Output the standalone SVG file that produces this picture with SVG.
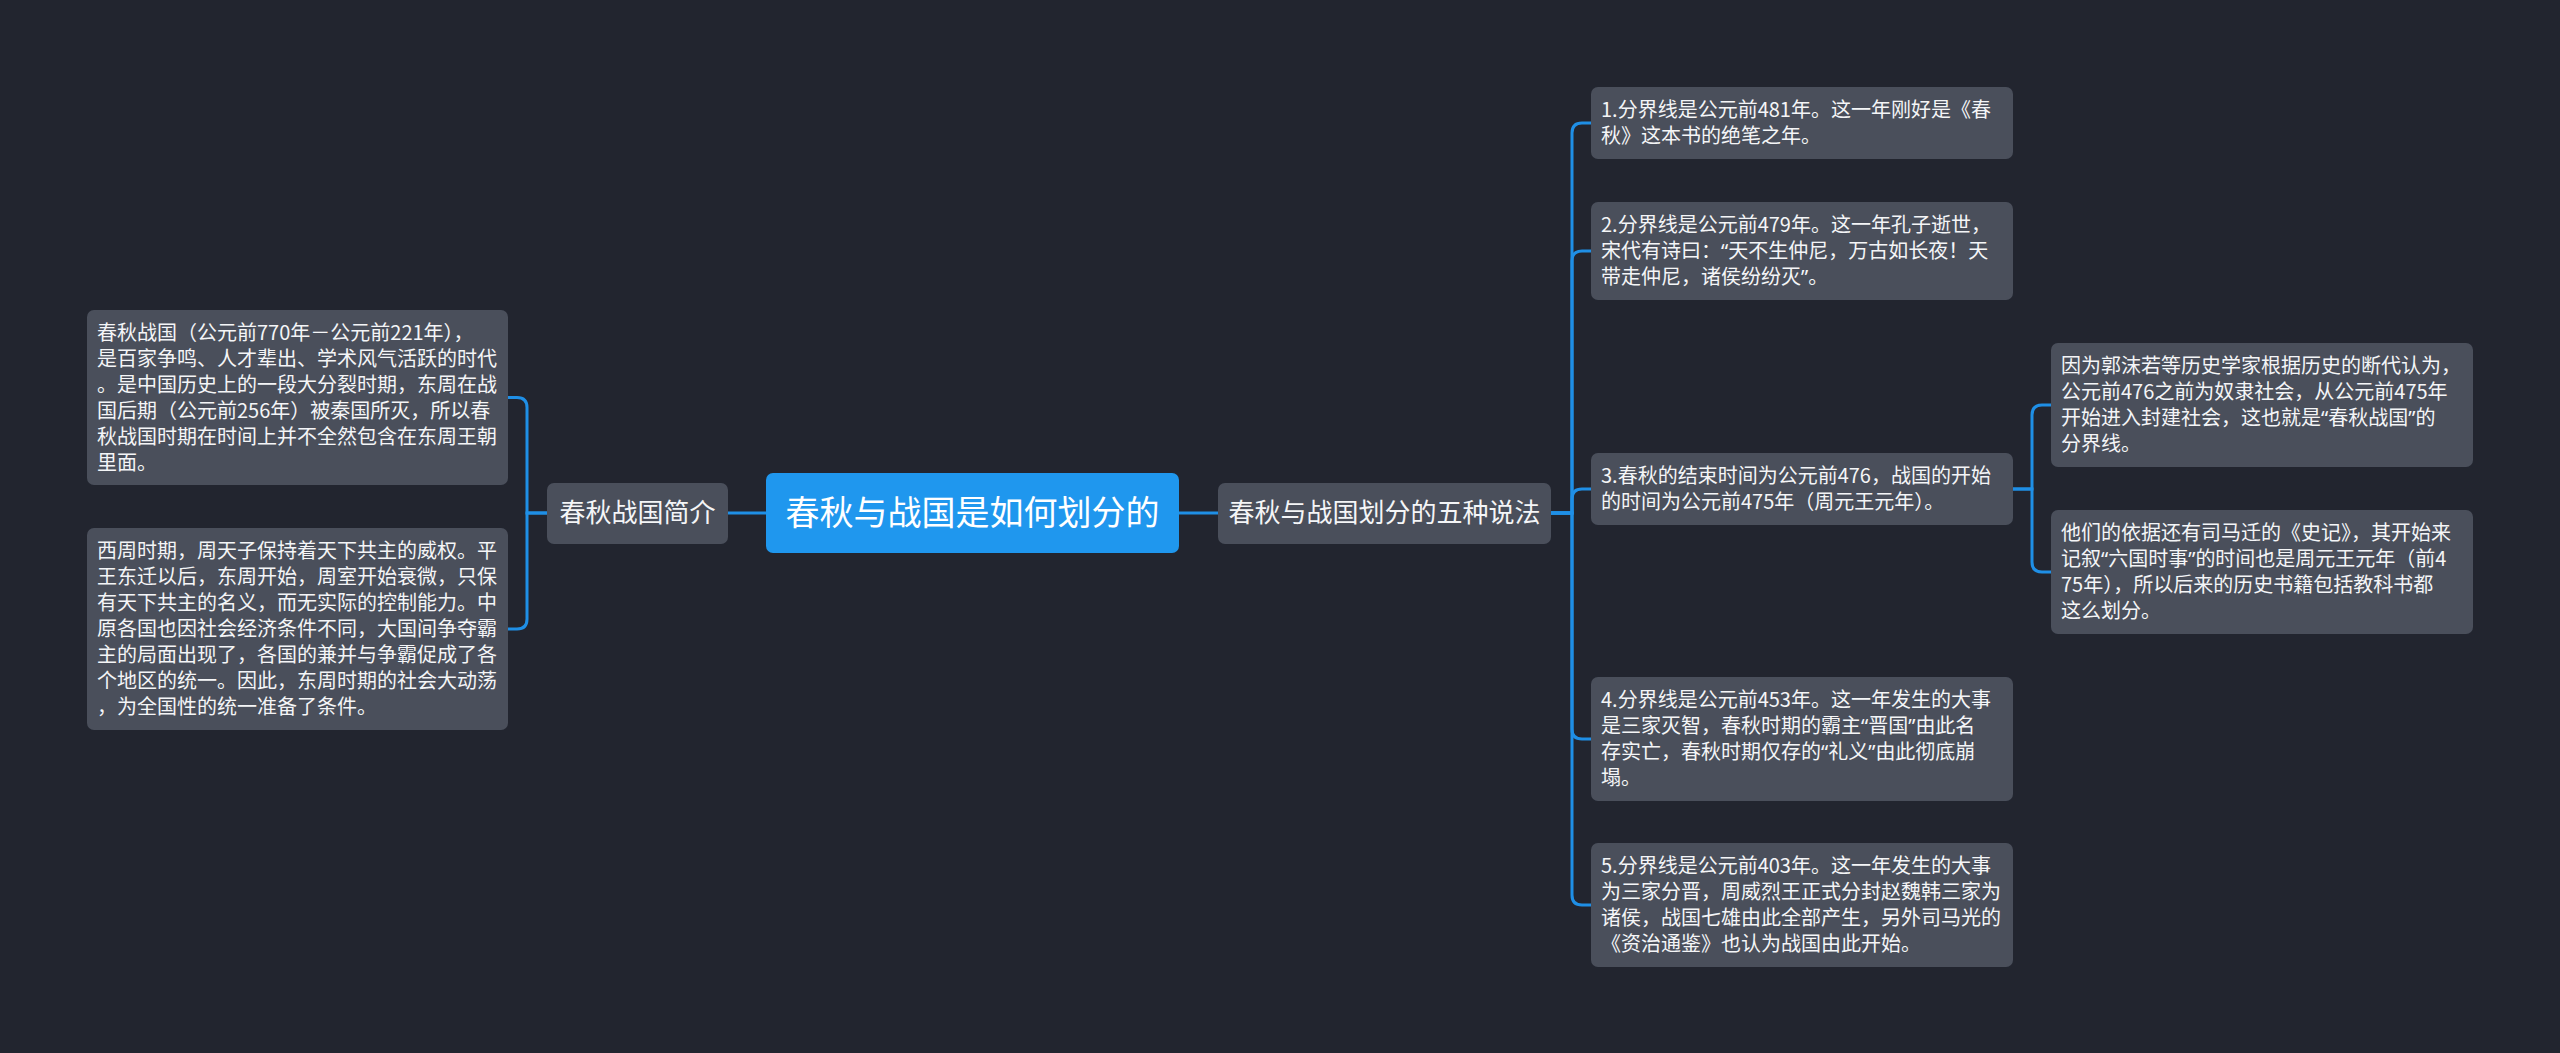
<svg xmlns="http://www.w3.org/2000/svg" width="2560" height="1053" viewBox="0 0 2560 1053">
<style>
.bg{fill:#22252f}
.n{fill:#4a4f5b}
.c{fill:#1f97ee}
.t{font-family:"Noto Sans CJK SC","Noto Sans",sans-serif;fill:#f4f5f7;font-size:20px}
.q{font-family:"Noto Sans","DejaVu Sans",sans-serif}
.t1{font-family:"Noto Sans CJK SC","Noto Sans",sans-serif;fill:#f4f5f7;font-size:26px;text-anchor:middle}
.t0{font-family:"Noto Sans CJK SC","Noto Sans",sans-serif;fill:#ffffff;font-size:34px;text-anchor:middle}
.l{fill:none;stroke:#1f8fe6;stroke-width:3}
</style>
<rect class="bg" x="0" y="0" width="2560" height="1053"/>
<g id="connectors">
<path class="l" d="M547,513 H527 V407.5 Q527,397.5 517,397.5 H508"/>
<path class="l" d="M547,513 H527 V619 Q527,629 517,629 H508"/>
<path class="l" d="M728,513 H766"/>
<path class="l" d="M1179,513 H1218"/>
<path class="l" d="M1551,513 H1572 V133 Q1572,123 1582,123 H1591"/>
<path class="l" d="M1551,513 H1572 V261 Q1572,251 1582,251 H1591"/>
<path class="l" d="M1551,513 H1572 V499 Q1572,489 1582,489 H1591"/>
<path class="l" d="M1551,513 H1572 V729 Q1572,739 1582,739 H1591"/>
<path class="l" d="M1551,513 H1572 V895 Q1572,905 1582,905 H1591"/>
<path class="l" d="M2013,489 H2032 V415 Q2032,405 2042,405 H2051"/>
<path class="l" d="M2013,489 H2032 V562 Q2032,572 2042,572 H2051"/>
</g>
<g id="root">
<rect class="c" x="766" y="473" width="413" height="80" rx="7"/>
<text class="t0" x="972.5" y="525">春秋与战国是如何划分的</text>
</g>
<g id="intro">
<rect class="n" x="547" y="483" width="181" height="61" rx="7"/>
<text class="t1" x="637.5" y="522">春秋战国简介</text>
</g>
<g id="five">
<rect class="n" x="1218" y="483" width="333" height="61" rx="7"/>
<text class="t1" x="1384.5" y="522">春秋与战国划分的五种说法</text>
</g>
<g id="intro1">
<rect class="n" x="87" y="310" width="421" height="175" rx="7"/>
<text class="t" x="97"><tspan x="97" y="340">春秋战国（公元前770年－公元前221年），</tspan><tspan x="97" y="366">是百家争鸣、人才辈出、学术风气活跃的时代</tspan><tspan x="97" y="392">。是中国历史上的一段大分裂时期，东周在战</tspan><tspan x="97" y="418">国后期（公元前256年）被秦国所灭，所以春</tspan><tspan x="97" y="444">秋战国时期在时间上并不全然包含在东周王朝</tspan><tspan x="97" y="470">里面。</tspan></text>
</g>
<g id="intro2">
<rect class="n" x="87" y="528" width="421" height="202" rx="7"/>
<text class="t" x="97"><tspan x="97" y="558">西周时期，周天子保持着天下共主的威权。平</tspan><tspan x="97" y="584">王东迁以后，东周开始，周室开始衰微，只保</tspan><tspan x="97" y="610">有天下共主的名义，而无实际的控制能力。中</tspan><tspan x="97" y="636">原各国也因社会经济条件不同，大国间争夺霸</tspan><tspan x="97" y="662">主的局面出现了，各国的兼并与争霸促成了各</tspan><tspan x="97" y="688">个地区的统一。因此，东周时期的社会大动荡</tspan><tspan x="97" y="714">，为全国性的统一准备了条件。</tspan></text>
</g>
<g id="r1">
<rect class="n" x="1591" y="87" width="422" height="72" rx="7"/>
<text class="t"><tspan x="1601" y="117">1.分界线是公元前481年。这一年刚好是《春</tspan><tspan x="1601" y="143">秋》这本书的绝笔之年。</tspan></text>
</g>
<g id="r2">
<rect class="n" x="1591" y="202" width="422" height="98" rx="7"/>
<text class="t"><tspan x="1601" y="232">2.分界线是公元前479年。这一年孔子逝世，</tspan><tspan x="1601" y="258">宋代有诗曰：<tspan class="q">“</tspan>天不生仲尼，万古如长夜！天</tspan><tspan x="1601" y="284">带走仲尼，诸侯纷纷灭<tspan class="q">”</tspan>。</tspan></text>
</g>
<g id="r3">
<rect class="n" x="1591" y="453" width="422" height="72" rx="7"/>
<text class="t"><tspan x="1601" y="483">3.春秋的结束时间为公元前476，战国的开始</tspan><tspan x="1601" y="509">的时间为公元前475年（周元王元年）。</tspan></text>
</g>
<g id="r4">
<rect class="n" x="1591" y="677" width="422" height="124" rx="7"/>
<text class="t"><tspan x="1601" y="707">4.分界线是公元前453年。这一年发生的大事</tspan><tspan x="1601" y="733">是三家灭智，春秋时期的霸主<tspan class="q">“</tspan>晋国<tspan class="q">”</tspan>由此名</tspan><tspan x="1601" y="759">存实亡，春秋时期仅存的<tspan class="q">“</tspan>礼义<tspan class="q">”</tspan>由此彻底崩</tspan><tspan x="1601" y="785">塌。</tspan></text>
</g>
<g id="r5">
<rect class="n" x="1591" y="843" width="422" height="124" rx="7"/>
<text class="t"><tspan x="1601" y="873">5.分界线是公元前403年。这一年发生的大事</tspan><tspan x="1601" y="899">为三家分晋，周威烈王正式分封赵魏韩三家为</tspan><tspan x="1601" y="925">诸侯，战国七雄由此全部产生，另外司马光的</tspan><tspan x="1601" y="951">《资治通鉴》也认为战国由此开始。</tspan></text>
</g>
<g id="s1">
<rect class="n" x="2051" y="343" width="422" height="124" rx="7"/>
<text class="t"><tspan x="2061" y="373">因为郭沫若等历史学家根据历史的断代认为，</tspan><tspan x="2061" y="399">公元前476之前为奴隶社会，从公元前475年</tspan><tspan x="2061" y="425">开始进入封建社会，这也就是<tspan class="q">“</tspan>春秋战国<tspan class="q">”</tspan>的</tspan><tspan x="2061" y="451">分界线。</tspan></text>
</g>
<g id="s2">
<rect class="n" x="2051" y="510" width="422" height="124" rx="7"/>
<text class="t"><tspan x="2061" y="540">他们的依据还有司马迁的《史记》，其开始来</tspan><tspan x="2061" y="566">记叙<tspan class="q">“</tspan>六国时事<tspan class="q">”</tspan>的时间也是周元王元年（前4</tspan><tspan x="2061" y="592">75年），所以后来的历史书籍包括教科书都</tspan><tspan x="2061" y="618">这么划分。</tspan></text>
</g>
</svg>
